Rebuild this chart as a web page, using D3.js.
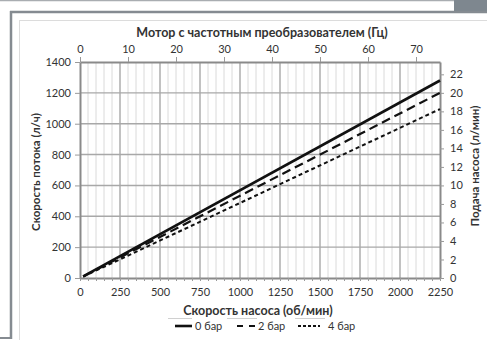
<!DOCTYPE html>
<html>
<head>
<meta charset="utf-8">
<script src="https://cdn.jsdelivr.net/npm/d3@7"></script>
<style>
  html, body { margin: 0; padding: 0; background: #fff; }
  svg { display: block; }
  text { font-family: Lato, "Open Sans", sans-serif; fill: #333; }
</style>
</head>
<body>
<svg id="chart" width="487" height="340"></svg>
<script>
// Pump speed (rpm) at the two ends of each curve
const speeds = [20, 2250];
// Flow rate (l/h) per outlet pressure
const flow0bar = [11, 1280];
const flow2bar = [10, 1200];
const flow4bar = [9, 1095];

const seriesNames = ["0 бар", "2 бар", "4 бар"];
const bottomTicks = [0, 250, 500, 750, 1000, 1250, 1500, 1750, 2000, 2250];
const topTicks = [0, 10, 20, 30, 40, 50, 60, 70];
const leftTicks = [0, 200, 400, 600, 800, 1000, 1200, 1400];
const rightTicks = [0, 2, 4, 6, 8, 10, 12, 14, 16, 18, 20, 22];

const titleTop = "Мотор с частотным преобразователем (Гц)";
const titleBottom = "Скорость насоса (об/мин)";
const titleLeft = "Скорость потока (л/ч)";
const titleRight = "Подача насоса (л/мин)";

const svg = d3.select("#chart");
const fmt = d3.format("d");

// --- page frame around the figure ---
const frame = svg.append("g");
frame.append("line").attr("x1", 0).attr("x2", 455).attr("y1", 0.5).attr("y2", 0.5)
  .attr("stroke", "#a9adb1").attr("stroke-width", 1.5);
frame.append("rect").attr("x", 454).attr("y", 0).attr("width", 33).attr("height", 12)
  .attr("fill", "#7e878f");
frame.append("line").attr("x1", 10).attr("x2", 487).attr("y1", 12).attr("y2", 12)
  .attr("stroke", "#858b91").attr("stroke-width", 2.5);
frame.append("line").attr("x1", 11).attr("x2", 11).attr("y1", 11).attr("y2", 339)
  .attr("stroke", "#858b91").attr("stroke-width", 2.5);
frame.append("line").attr("x1", 0).attr("x2", 12).attr("y1", 338).attr("y2", 338)
  .attr("stroke", "#858b91").attr("stroke-width", 2);
frame.append("line").attr("x1", 19.5).attr("x2", 19.5).attr("y1", 20).attr("y2", 340)
  .attr("stroke", "#dcdcdc").attr("stroke-width", 1);
frame.append("line").attr("x1", 19.5).attr("x2", 487).attr("y1", 20.5).attr("y2", 20.5)
  .attr("stroke", "#dcdcdc").attr("stroke-width", 1);

// --- scales ---
const x = d3.scaleLinear().domain([0, 2250]).range([80, 440]);
const xHz = d3.scaleLinear().domain([0, 75]).range([80, 440]);
const y = d3.scaleLinear().domain([0, 1400]).range([278, 62]);
const yMin = d3.scaleLinear().domain([0, 1400 / 60]).range([278, 62]);

// --- grid ---
const grid = svg.append("g");
grid.selectAll(".minor").data(d3.range(50, 2250, 50).filter(v => v % 250 !== 0))
  .join("line")
  .attr("x1", d => x(d)).attr("x2", d => x(d))
  .attr("y1", y(0)).attr("y2", y(1400))
  .attr("stroke", "#dadada").attr("stroke-width", 1);
grid.selectAll(".major").data(bottomTicks.filter(v => v > 0 && v < 2250))
  .join("line")
  .attr("x1", d => x(d)).attr("x2", d => x(d))
  .attr("y1", y(0)).attr("y2", y(1400))
  .attr("stroke", "#a8a8a8").attr("stroke-width", 1.4);
grid.selectAll(".hgrid").data(leftTicks.filter(v => v > 0 && v < 1400))
  .join("line")
  .attr("x1", x(0)).attr("x2", x(2250))
  .attr("y1", d => y(d)).attr("y2", d => y(d))
  .attr("stroke", "#a8a8a8").attr("stroke-width", 1.4);

// --- axes ---
function styleAxis(g) {
  g.selectAll(".domain").attr("stroke", "#8a8a8a").attr("stroke-width", 2);
  g.selectAll(".tick line").attr("stroke", "#9a9a9a").attr("stroke-width", 1);
  g.selectAll(".tick text").style("font-size", "11px").attr("fill", "#3a3a3a");
}

const axB = svg.append("g").attr("transform", `translate(0,${y(0)})`)
  .call(d3.axisBottom(x).tickValues(d3.range(0, 2251, 50)).tickSize(3).tickSizeOuter(0)
    .tickFormat(d => bottomTicks.includes(d) ? fmt(d) : ""))
  .call(styleAxis);
axB.selectAll(".tick text").attr("dy", "0.71em").attr("y", 10);

svg.append("g").attr("transform", `translate(0,${y(1400)})`)
  .call(d3.axisTop(xHz).tickValues(topTicks).tickSize(5).tickSizeOuter(0).tickFormat(fmt))
  .call(styleAxis)
  .selectAll(".tick text").attr("y", -9);

svg.append("g").attr("transform", `translate(${x(0)},0)`)
  .call(d3.axisLeft(y).tickValues(leftTicks).tickSize(5).tickSizeOuter(0).tickFormat(fmt))
  .call(styleAxis)
  .selectAll(".tick text").attr("x", -9);

svg.append("g").attr("transform", `translate(${x(2250)},0)`)
  .call(d3.axisRight(yMin).tickValues(rightTicks).tickSize(4).tickSizeOuter(0).tickFormat(fmt))
  .call(styleAxis)
  .selectAll(".tick text").attr("x", 10);

// --- axis titles ---
svg.append("text").attr("x", 262).attr("y", 37).attr("text-anchor", "middle")
  .style("font-size", "12.5px").style("font-weight", "bold").text(titleTop);
svg.append("text").attr("x", 258).attr("y", 315).attr("text-anchor", "middle")
  .style("font-size", "12.5px").style("font-weight", "bold").text(titleBottom);
svg.append("text").attr("transform", "translate(40,172) rotate(-90)").attr("text-anchor", "middle")
  .style("font-size", "11.5px").style("font-weight", "bold").text(titleLeft);
svg.append("text").attr("transform", "translate(479,166) rotate(-90)").attr("text-anchor", "middle")
  .style("font-size", "11.5px").style("font-weight", "bold").text(titleRight);

// --- curves ---
const series = [
  { name: seriesNames[0], values: flow0bar, dash: null, width: 2.6 },
  { name: seriesNames[1], values: flow2bar, dash: "9,5", width: 2.2 },
  { name: seriesNames[2], values: flow4bar, dash: "4,3", width: 2 }
];
const line = d3.line().x(d => x(d[0])).y(d => y(d[1]));
svg.append("g").selectAll("path").data(series).join("path")
  .attr("d", s => line(speeds.map((v, i) => [v, s.values[i]])))
  .attr("fill", "none").attr("stroke", "#111")
  .attr("stroke-width", s => s.width)
  .attr("stroke-dasharray", s => s.dash);

// --- legend ---
const legendX = [175, 237, 298];
const legendSwatch = [17, 18, 22];
const legend = svg.append("g").attr("transform", "translate(0,326)");
const items = legend.selectAll("g").data(series).join("g")
  .attr("transform", (s, i) => `translate(${legendX[i]},0)`);
items.append("line").attr("x1", 0).attr("x2", (s, i) => legendSwatch[i])
  .attr("y1", 0).attr("y2", 0)
  .attr("stroke", "#111").attr("stroke-width", s => s.width)
  .attr("stroke-dasharray", s => s.dash ? (s.dash === "9,5" ? "6,6" : "3,2") : null);
items.append("text").attr("x", (s, i) => legendSwatch[i] + 3 + (i === 2 ? 5 : 0)).attr("y", 4)
  .style("font-size", "11px").text(s => s.name);

// faint separator marks above the legend entries
const sepSpans = [[168, 192], [227, 257], [295, 325]];
svg.append("g").selectAll("line").data(sepSpans).join("line")
  .attr("x1", d => d[0]).attr("x2", d => d[1]).attr("y1", 318.5).attr("y2", 318.5)
  .attr("stroke", "#d0d0d0").attr("stroke-width", 1);
</script>
</body>
</html>
